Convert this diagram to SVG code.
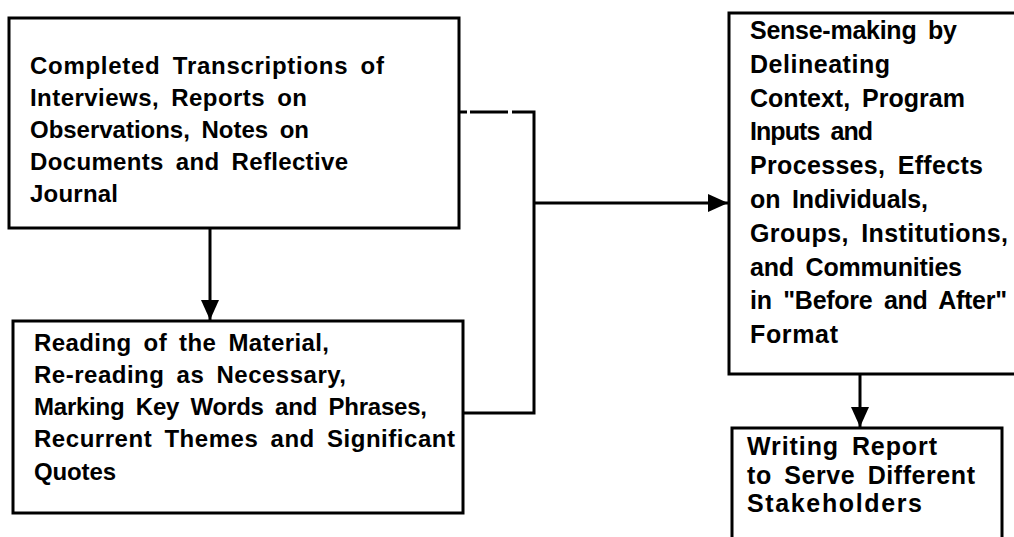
<svg xmlns="http://www.w3.org/2000/svg" width="1014" height="537" viewBox="0 0 1014 537">
  <defs>
    <style>
      .box { fill: #ffffff; stroke: #000000; stroke-width: 3; }
      .wire { fill: none; stroke: #000000; stroke-width: 3; }
      .label { font-family: "Liberation Sans", Arial, sans-serif; font-size: 24px; font-weight: bold; fill: #000000; word-spacing: 5px; }
      .big { font-size: 25px; }
    </style>
    <marker id="arrow" markerUnits="userSpaceOnUse" markerWidth="22" markerHeight="20" refX="20" refY="9" orient="auto">
      <path d="M0,0 L20,9 L0,18 Z" fill="#000000"/>
    </marker>
  </defs>

  <!-- connectors -->
  <g id="connectors">
    <line class="wire" x1="210" y1="229" x2="210" y2="320" marker-end="url(#arrow)"/>
    <line class="wire" x1="459" y1="112" x2="467" y2="112"/>
    <line class="wire" x1="470" y1="112" x2="508" y2="112"/>
    <polyline class="wire" points="512,112 534,112 534,413 463,413"/>
    <line class="wire" x1="534" y1="203" x2="728" y2="203" marker-end="url(#arrow)"/>
    <line class="wire" x1="860" y1="374" x2="860" y2="427" marker-end="url(#arrow)"/>
  </g>

  <!-- source material -->
  <g id="node-transcriptions">
    <rect class="box" x="9" y="18" width="450" height="210"/>
    <text class="label" x="30" y="74" textLength="354">Completed Transcriptions of</text>
    <text class="label" x="30" y="106" textLength="277">Interviews, Reports on</text>
    <text class="label" x="30" y="138" textLength="279">Observations, Notes on</text>
    <text class="label" x="30" y="170" textLength="318">Documents and Reflective</text>
    <text class="label" x="30" y="202" textLength="88">Journal</text>
  </g>

  <!-- reading and coding -->
  <g id="node-reading">
    <rect class="box" x="13" y="321" width="450" height="192"/>
    <text class="label" x="34" y="351" textLength="295">Reading of the Material,</text>
    <text class="label" x="34" y="383" textLength="312">Re-reading as Necessary,</text>
    <text class="label" x="34" y="415" textLength="393">Marking Key Words and Phrases,</text>
    <text class="label" x="34" y="447" textLength="421">Recurrent Themes and Significant</text>
    <text class="label" x="34" y="480" textLength="82">Quotes</text>
  </g>

  <!-- sense-making -->
  <g id="node-sensemaking">
    <rect class="box" x="729" y="13" width="292" height="361"/>
    <text class="label big" x="750" y="39" textLength="207">Sense-making by</text>
    <text class="label big" x="750" y="73" textLength="140">Delineating</text>
    <text class="label big" x="750" y="107" textLength="215">Context, Program</text>
    <text class="label big" x="750" y="140" textLength="123">Inputs and</text>
    <text class="label big" x="750" y="174" textLength="233">Processes, Effects</text>
    <text class="label big" x="750" y="208" textLength="178">on Individuals,</text>
    <text class="label big" x="750" y="242" textLength="258">Groups, Institutions,</text>
    <text class="label big" x="750" y="276" textLength="212">and Communities</text>
    <text class="label big" x="750" y="309" textLength="257">in "Before and After"</text>
    <text class="label big" x="750" y="343" textLength="88">Format</text>
  </g>

  <!-- report -->
  <g id="node-report">
    <rect class="box" x="732" y="428" width="270" height="120"/>
    <text class="label big" x="747" y="455" textLength="190">Writing Report</text>
    <text class="label big" x="747" y="484" textLength="228">to Serve Different</text>
    <text class="label big" x="747" y="512" textLength="175">Stakeholders</text>
  </g>
</svg>
